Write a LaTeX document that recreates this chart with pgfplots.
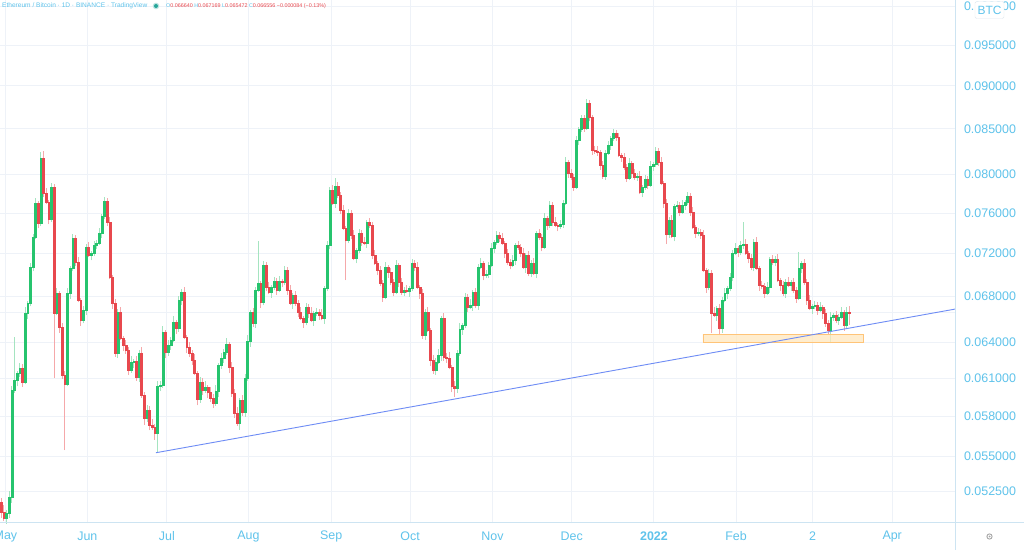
\documentclass[border=0pt]{standalone}
\usepackage{pgfplots}
\usepackage{pgfplotstable}
\pgfplotsset{compat=1.18}
\usepackage{fontspec}
\setmainfont{Liberation Sans}
\definecolor{tvgreen}{RGB}{38,196,110}
\definecolor{tvred}{RGB}{232,72,78}
\definecolor{tvgreenw}{RGB}{165,228,192}
\definecolor{tvredw}{RGB}{245,168,170}
\definecolor{tvlabel}{RGB}{95,195,235}
\definecolor{tvgrid}{RGB}{238,242,248}
\definecolor{tvsep}{RGB}{205,228,242}
\definecolor{tvtrend}{RGB}{110,140,245}
\definecolor{boxfill}{RGB}{255,232,190}
\definecolor{boxdraw}{RGB}{255,196,120}
\definecolor{tvdot}{RGB}{38,166,154}
\tikzset{
 upwick/.style={draw=tvgreenw, line width=0.9bp},
 dnwick/.style={draw=tvredw, line width=0.9bp},
 upbody/.style={fill=tvgreen, draw=tvgreen, line width=0.4bp},
 dnbody/.style={fill=tvred, draw=tvred, line width=0.4bp},
}
\pgfplotstableread{
k o h l c
0 0.05174 0.05204 0.05066 0.05106
1 0.05106 0.05156 0.05045 0.05065
2 0.05065 0.05119 0.05015 0.05099
3 0.05099 0.05249 0.05069 0.05209
4 0.05209 0.06035 0.05169 0.06005
5 0.06005 0.06444 0.05985 0.06086
6 0.06086 0.06163 0.06036 0.06143
7 0.06143 0.06224 0.06113 0.06184
8 0.06184 0.06214 0.06030 0.06070
9 0.06070 0.06703 0.06050 0.06653
10 0.06653 0.06762 0.06603 0.06742
11 0.06742 0.07112 0.06712 0.07072
12 0.07072 0.07390 0.07032 0.07360
13 0.07360 0.07750 0.07340 0.07700
14 0.07700 0.07720 0.07448 0.07498
15 0.07498 0.08241 0.07468 0.08176
16 0.08176 0.08252 0.07764 0.07804
17 0.07804 0.07854 0.07691 0.07711
18 0.07711 0.07731 0.07488 0.07538
19 0.07538 0.07907 0.07508 0.07867
20 0.07867 0.07897 0.06102 0.06653
21 0.06653 0.06882 0.06633 0.06832
22 0.06832 0.06852 0.06480 0.06530
23 0.06530 0.06570 0.06097 0.06127
24 0.06127 0.06157 0.05545 0.06054
25 0.06054 0.06882 0.06034 0.06832
26 0.06832 0.07083 0.06782 0.07063
27 0.07063 0.07391 0.07033 0.07351
28 0.07351 0.07381 0.07079 0.07119
29 0.07119 0.07169 0.06749 0.06769
30 0.06769 0.06789 0.06541 0.06591
31 0.06591 0.06719 0.06561 0.06679
32 0.06679 0.07293 0.06639 0.07263
33 0.07263 0.07313 0.07166 0.07186
34 0.07186 0.07225 0.07136 0.07205
35 0.07205 0.07323 0.07175 0.07283
36 0.07283 0.07332 0.07243 0.07302
37 0.07302 0.07450 0.07282 0.07400
38 0.07400 0.07588 0.07350 0.07568
39 0.07568 0.07761 0.07538 0.07721
40 0.07721 0.07751 0.07468 0.07508
41 0.07508 0.07558 0.06959 0.06979
42 0.06979 0.06999 0.06692 0.06742
43 0.06742 0.06782 0.06278 0.06308
44 0.06308 0.06691 0.06268 0.06661
45 0.06661 0.06711 0.06415 0.06435
46 0.06435 0.06455 0.06326 0.06376
47 0.06376 0.06416 0.06303 0.06333
48 0.06333 0.06363 0.06127 0.06167
49 0.06167 0.06283 0.06147 0.06233
50 0.06233 0.06262 0.06183 0.06242
51 0.06242 0.06282 0.06080 0.06110
52 0.06110 0.06338 0.06070 0.06308
53 0.06308 0.06358 0.05946 0.05966
54 0.05966 0.05986 0.05736 0.05786
55 0.05786 0.05888 0.05756 0.05848
56 0.05848 0.05878 0.05692 0.05732
57 0.05732 0.05782 0.05697 0.05717
58 0.05717 0.05737 0.05622 0.05672
59 0.05672 0.06077 0.05530 0.06037
60 0.06037 0.06075 0.05997 0.06045
61 0.06045 0.06537 0.06025 0.06487
62 0.06487 0.06507 0.06266 0.06316
63 0.06316 0.06416 0.06286 0.06376
64 0.06376 0.06448 0.06336 0.06418
65 0.06418 0.06624 0.06398 0.06574
66 0.06574 0.06594 0.06471 0.06521
67 0.06521 0.06809 0.06491 0.06769
68 0.06769 0.06871 0.06729 0.06841
69 0.06841 0.06891 0.06424 0.06444
70 0.06444 0.06464 0.06308 0.06358
71 0.06358 0.06398 0.06278 0.06308
72 0.06308 0.06338 0.06210 0.06250
73 0.06250 0.06300 0.06123 0.06143
74 0.06143 0.06163 0.05884 0.05934
75 0.05934 0.06110 0.05904 0.06070
76 0.06070 0.06100 0.05965 0.06005
77 0.06005 0.06079 0.05985 0.06029
78 0.06029 0.06049 0.05939 0.05989
79 0.05989 0.06029 0.05912 0.05942
80 0.05942 0.05972 0.05863 0.05903
81 0.05903 0.06047 0.05883 0.05997
82 0.05997 0.06229 0.05947 0.06209
83 0.06209 0.06307 0.06179 0.06267
84 0.06267 0.06346 0.06227 0.06316
85 0.06316 0.06434 0.06296 0.06384
86 0.06384 0.06404 0.06142 0.06192
87 0.06192 0.06232 0.05951 0.05981
88 0.05981 0.06011 0.05785 0.05825
89 0.05825 0.05875 0.05727 0.05747
90 0.05747 0.05946 0.05697 0.05926
91 0.05926 0.05966 0.05802 0.05832
92 0.05832 0.06132 0.05792 0.06102
93 0.06102 0.06460 0.06082 0.06410
94 0.06410 0.06681 0.06360 0.06661
95 0.06661 0.06701 0.06535 0.06565
96 0.06565 0.06889 0.06525 0.06859
97 0.06859 0.07321 0.06839 0.06923
98 0.06923 0.06943 0.06701 0.06751
99 0.06751 0.07131 0.06721 0.07091
100 0.07091 0.07121 0.06847 0.06887
101 0.06887 0.06937 0.06821 0.06841
102 0.06841 0.06907 0.06791 0.06887
103 0.06887 0.06982 0.06857 0.06942
104 0.06942 0.06972 0.06819 0.06859
105 0.06859 0.06992 0.06839 0.06942
106 0.06942 0.06962 0.06883 0.06933
107 0.06933 0.07084 0.06903 0.07044
108 0.07044 0.07074 0.06819 0.06859
109 0.06859 0.06909 0.06722 0.06742
110 0.06742 0.06834 0.06692 0.06814
111 0.06814 0.06854 0.06712 0.06742
112 0.06742 0.06772 0.06621 0.06661
113 0.06661 0.06711 0.06589 0.06609
114 0.06609 0.06629 0.06524 0.06574
115 0.06574 0.06746 0.06544 0.06706
116 0.06706 0.06736 0.06613 0.06653
117 0.06653 0.06703 0.06571 0.06591
118 0.06591 0.06673 0.06541 0.06653
119 0.06653 0.06701 0.06623 0.06661
120 0.06661 0.06691 0.06595 0.06635
121 0.06635 0.06685 0.06589 0.06609
122 0.06609 0.06897 0.06559 0.06877
123 0.06877 0.07323 0.06847 0.07283
124 0.07283 0.07865 0.07243 0.07835
125 0.07835 0.07885 0.07680 0.07700
126 0.07700 0.07961 0.07650 0.07877
127 0.07877 0.07917 0.07753 0.07783
128 0.07783 0.07813 0.07589 0.07629
129 0.07629 0.07679 0.07429 0.07449
130 0.07449 0.07469 0.06951 0.07331
131 0.07331 0.07639 0.07301 0.07599
132 0.07599 0.07629 0.07340 0.07380
133 0.07380 0.07430 0.07137 0.07157
134 0.07157 0.07254 0.07107 0.07234
135 0.07234 0.07440 0.07204 0.07400
136 0.07400 0.07430 0.07272 0.07312
137 0.07312 0.07362 0.07282 0.07302
138 0.07302 0.07528 0.07252 0.07508
139 0.07508 0.07548 0.07448 0.07478
140 0.07478 0.07508 0.07146 0.07186
141 0.07186 0.07236 0.07090 0.07110
142 0.07110 0.07130 0.06994 0.07044
143 0.07044 0.07084 0.06893 0.06923
144 0.06923 0.06953 0.06756 0.06796
145 0.06796 0.07122 0.06776 0.07072
146 0.07072 0.07092 0.06975 0.07025
147 0.07025 0.07065 0.06903 0.06933
148 0.06933 0.06963 0.06801 0.06841
149 0.06841 0.07141 0.06821 0.07091
150 0.07091 0.07111 0.06883 0.06933
151 0.06933 0.06973 0.06811 0.06841
152 0.06841 0.06889 0.06801 0.06859
153 0.06859 0.06909 0.06830 0.06850
154 0.06850 0.06897 0.06800 0.06877
155 0.06877 0.07150 0.06847 0.07110
156 0.07110 0.07140 0.07032 0.07072
157 0.07072 0.07122 0.06867 0.06887
158 0.06887 0.06907 0.06782 0.06832
159 0.06832 0.06872 0.06431 0.06461
160 0.06461 0.06691 0.06421 0.06661
161 0.06661 0.06711 0.06484 0.06504
162 0.06504 0.06524 0.06200 0.06250
163 0.06250 0.06290 0.06137 0.06167
164 0.06167 0.06263 0.06127 0.06233
165 0.06233 0.06342 0.06213 0.06292
166 0.06292 0.06629 0.06242 0.06609
167 0.06609 0.06649 0.06245 0.06275
168 0.06275 0.06305 0.06227 0.06267
169 0.06267 0.06317 0.06172 0.06192
170 0.06192 0.06212 0.05987 0.06037
171 0.06037 0.06077 0.05950 0.06021
172 0.06021 0.06338 0.05981 0.06308
173 0.06308 0.06563 0.06288 0.06513
174 0.06513 0.06568 0.06463 0.06548
175 0.06548 0.06836 0.06518 0.06796
176 0.06796 0.06826 0.06666 0.06706
177 0.06706 0.06774 0.06686 0.06724
178 0.06724 0.06861 0.06674 0.06841
179 0.06841 0.06881 0.06694 0.06724
180 0.06724 0.07102 0.06684 0.07072
181 0.07072 0.07160 0.07052 0.07110
182 0.07110 0.07130 0.06948 0.06998
183 0.06998 0.07047 0.06968 0.07007
184 0.07007 0.07121 0.06967 0.07091
185 0.07091 0.07303 0.07071 0.07253
186 0.07253 0.07332 0.07203 0.07312
187 0.07312 0.07420 0.07282 0.07380
188 0.07380 0.07410 0.07311 0.07351
189 0.07351 0.07401 0.07282 0.07302
190 0.07302 0.07322 0.07155 0.07205
191 0.07205 0.07245 0.07089 0.07119
192 0.07119 0.07149 0.07051 0.07091
193 0.07091 0.07188 0.07071 0.07138
194 0.07138 0.07303 0.07088 0.07283
195 0.07283 0.07323 0.07233 0.07263
196 0.07263 0.07293 0.07165 0.07205
197 0.07205 0.07255 0.07052 0.07072
198 0.07072 0.07206 0.07022 0.07186
199 0.07186 0.07226 0.06986 0.07016
200 0.07016 0.07140 0.06976 0.07110
201 0.07110 0.07160 0.06996 0.07016
202 0.07016 0.07420 0.06966 0.07400
203 0.07400 0.07440 0.07330 0.07360
204 0.07360 0.07390 0.07223 0.07263
205 0.07263 0.07598 0.07243 0.07548
206 0.07548 0.07568 0.07428 0.07478
207 0.07478 0.07720 0.07448 0.07680
208 0.07680 0.07710 0.07468 0.07508
209 0.07508 0.07558 0.07458 0.07478
210 0.07478 0.07498 0.07418 0.07468
211 0.07468 0.07528 0.07438 0.07488
212 0.07488 0.07730 0.07448 0.07700
213 0.07700 0.08182 0.07680 0.08132
214 0.08132 0.08152 0.07964 0.08014
215 0.08014 0.08054 0.07942 0.07972
216 0.07972 0.08002 0.07827 0.07867
217 0.07867 0.08423 0.07847 0.08373
218 0.08373 0.08517 0.08323 0.08497
219 0.08497 0.08662 0.08467 0.08622
220 0.08622 0.08652 0.08468 0.08508
221 0.08508 0.08846 0.08488 0.08796
222 0.08796 0.08831 0.08584 0.08634
223 0.08634 0.08654 0.08213 0.08263
224 0.08263 0.08303 0.08222 0.08252
225 0.08252 0.08302 0.08201 0.08241
226 0.08241 0.08261 0.08050 0.08100
227 0.08100 0.08140 0.07952 0.07982
228 0.07982 0.08260 0.07942 0.08230
229 0.08230 0.08368 0.08210 0.08318
230 0.08318 0.08416 0.08268 0.08396
231 0.08396 0.08492 0.08366 0.08452
232 0.08452 0.08482 0.08367 0.08407
233 0.08407 0.08457 0.08188 0.08208
234 0.08208 0.08228 0.08137 0.08187
235 0.08187 0.08227 0.08048 0.08078
236 0.08078 0.08108 0.07921 0.07961
237 0.07961 0.08172 0.07941 0.08122
238 0.08122 0.08142 0.07964 0.08014
239 0.08014 0.08054 0.07942 0.07972
240 0.07972 0.08012 0.07932 0.07982
241 0.07982 0.08032 0.07794 0.07814
242 0.07814 0.07887 0.07764 0.07867
243 0.07867 0.07990 0.07837 0.07950
244 0.07950 0.07980 0.07848 0.07888
245 0.07888 0.08139 0.07868 0.08089
246 0.08089 0.08131 0.08039 0.08111
247 0.08111 0.08292 0.08081 0.08252
248 0.08252 0.08282 0.08092 0.08132
249 0.08132 0.08182 0.07889 0.07909
250 0.07909 0.07929 0.07650 0.07700
251 0.07700 0.07740 0.07292 0.07390
252 0.07390 0.07558 0.07350 0.07528
253 0.07528 0.07578 0.07350 0.07370
254 0.07370 0.07690 0.07320 0.07670
255 0.07670 0.07720 0.07640 0.07680
256 0.07680 0.07710 0.07569 0.07609
257 0.07609 0.07730 0.07589 0.07680
258 0.07680 0.07731 0.07630 0.07711
259 0.07711 0.07813 0.07681 0.07773
260 0.07773 0.07803 0.07569 0.07609
261 0.07609 0.07659 0.07439 0.07459
262 0.07459 0.07479 0.07350 0.07400
263 0.07400 0.07449 0.07370 0.07409
264 0.07409 0.07439 0.07340 0.07380
265 0.07380 0.07430 0.07024 0.07044
266 0.07044 0.07064 0.06837 0.06887
267 0.06887 0.07056 0.06857 0.07016
268 0.07016 0.07046 0.06478 0.06653
269 0.06653 0.06703 0.06615 0.06635
270 0.06635 0.06717 0.06585 0.06697
271 0.06697 0.06737 0.06461 0.06521
272 0.06521 0.06799 0.06481 0.06769
273 0.06769 0.06882 0.06749 0.06832
274 0.06832 0.06897 0.06782 0.06877
275 0.06877 0.07019 0.06847 0.06979
276 0.06979 0.07235 0.06939 0.07205
277 0.07205 0.07303 0.07185 0.07253
278 0.07253 0.07273 0.07165 0.07215
279 0.07215 0.07323 0.07185 0.07283
280 0.07283 0.07508 0.07243 0.07292
281 0.07292 0.07342 0.07185 0.07205
282 0.07205 0.07225 0.07107 0.07157
283 0.07157 0.07197 0.07042 0.07072
284 0.07072 0.07342 0.07032 0.07312
285 0.07312 0.07362 0.07043 0.07063
286 0.07063 0.07083 0.06855 0.06905
287 0.06905 0.06945 0.06866 0.06896
288 0.06896 0.06926 0.06792 0.06832
289 0.06832 0.06937 0.06812 0.06887
290 0.06887 0.07168 0.06837 0.07148
291 0.07148 0.07188 0.07089 0.07119
292 0.07119 0.07178 0.07079 0.07148
293 0.07148 0.07198 0.06931 0.06951
294 0.06951 0.06971 0.06855 0.06905
295 0.06905 0.06945 0.06802 0.06832
296 0.06832 0.06963 0.06792 0.06933
297 0.06933 0.06983 0.06885 0.06905
298 0.06905 0.06953 0.06855 0.06933
299 0.06933 0.06973 0.06829 0.06859
300 0.06859 0.06889 0.06747 0.06787
301 0.06787 0.07215 0.06767 0.07063
302 0.07063 0.07130 0.07013 0.07110
303 0.07110 0.07150 0.06903 0.06933
304 0.06933 0.06963 0.06729 0.06769
305 0.06769 0.06819 0.06677 0.06697
306 0.06697 0.06735 0.06647 0.06715
307 0.06715 0.06764 0.06685 0.06724
308 0.06724 0.06754 0.06639 0.06679
309 0.06679 0.06756 0.06659 0.06706
310 0.06706 0.06726 0.06603 0.06653
311 0.06653 0.06693 0.06535 0.06565
312 0.06565 0.06595 0.06464 0.06504
313 0.06504 0.06667 0.06393 0.06617
314 0.06617 0.06655 0.06585 0.06635
315 0.06635 0.06675 0.06561 0.06591
316 0.06591 0.06647 0.06551 0.06617
317 0.06617 0.06711 0.06597 0.06661
318 0.06661 0.06681 0.06498 0.06548
319 0.06548 0.06704 0.06518 0.06664
320 0.066640 0.067169 0.065472 0.066556
}\candles
\begin{document}
\begin{tikzpicture}
\path[use as bounding box] (0bp,0bp) rectangle (1024bp,550bp);
\fill[white] (0bp,0bp) rectangle (1024bp,550bp);
\begin{axis}[
  at={(0bp,27bp)}, anchor=south west,
  scale only axis, width=955bp, height=523bp,
  ymode=log,
  xmin=-0.45, xmax=359.9, ymin=0.05032, ymax=0.10087,
  axis line style={draw=none},
  major tick length=0pt,
  ytick={0.0525,0.055,0.058,0.061,0.064,0.068,0.072,0.076,0.08,0.085,0.09,0.095,0.1},
  yticklabels={0.052500,0.055000,0.058000,0.061000,0.064000,0.068000,0.072000,0.076000,0.080000,0.085000,0.090000,0.095000,0.100000},
  yticklabel pos=right,
  yticklabel style={anchor=center, xshift=35bp, font=\fontsize{12.5}{14}\selectfont, text=tvlabel},
  xtick={1.6,32.5,62.5,93.3,124.5,154.3,185.4,215.3,246.3,277.3,306.2,336.2},
  xticklabels={May,Jun,Jul,Aug,Sep,Oct,Nov,Dec,\textbf{2022},Feb,2,Apr},
  xticklabel style={anchor=center, yshift=-13bp, font=\fontsize{12.5}{14}\selectfont, text=tvlabel},
  grid=major,
  major grid style={draw=tvgrid, line width=0.9bp},
  clip=true,
]
\addplot[draw=tvgrid, line width=0.9bp] coordinates {(-0.45,0.066556) (359.9,0.066556)};
\pgfplotstablegetrowsof{\candles}
\pgfmathtruncatemacro{\lastrow}{\pgfplotsretval-1}
\pgfplotsforeachungrouped \i in {0,...,\lastrow}{%
  \pgfplotstablegetelem{\i}{k}\of\candles \let\cK\pgfplotsretval
  \pgfplotstablegetelem{\i}{o}\of\candles \let\cO\pgfplotsretval
  \pgfplotstablegetelem{\i}{h}\of\candles \let\cH\pgfplotsretval
  \pgfplotstablegetelem{\i}{l}\of\candles \let\cL\pgfplotsretval
  \pgfplotstablegetelem{\i}{c}\of\candles \let\cC\pgfplotsretval
  \pgfmathsetmacro{\xa}{\cK-0.37}%
  \pgfmathsetmacro{\xb}{\cK+0.37}%
  \ifdim\cC pt<\cO pt \def\cdir{dn}\else\def\cdir{up}\fi
  \edef\doit{\noexpand\draw[\cdir wick] (axis cs:\cK,\cL) -- (axis cs:\cK,\cH);%
    \noexpand\filldraw[\cdir body] (axis cs:\xa,\cO) rectangle (axis cs:\xb,\cC);}%
  \doit
}
\addplot[fill=boxfill, fill opacity=0.75, draw=boxdraw, line width=0.9bp] coordinates {(264.8,0.06400) (325.2,0.06400) (325.2,0.06470) (264.8,0.06470) (264.8,0.06400)};
\addplot[draw=tvtrend, line width=0.9bp] coordinates {(58.4,0.05525) (359.9,0.06688)};
\end{axis}
\draw[tvsep, line width=1bp] (955.5bp,0bp) -- (955.5bp,550bp);
\draw[tvsep, line width=1bp] (0bp,27bp) -- (1024bp,27bp);
\node[draw={rgb,255:red,225;green,232;blue,238}, fill=white, rounded corners=1.5bp, inner sep=0pt, minimum width=29bp, minimum height=17bp, text=tvlabel, font=\fontsize{12}{14}\selectfont] at (989.5bp,540bp) {BTC};
\draw[gray!70, line width=0.9bp] (989.5bp,13.5bp) circle (2.6bp);
\fill[gray!70] (989.5bp,13.5bp) circle (1.0bp);
\node[anchor=west, inner sep=0pt, font=\fontsize{6.6}{8}\selectfont, text=tvlabel] at (2bp,544bp) {Ethereum / Bitcoin · 1D · BINANCE · TradingView};
\fill[tvdot!30] (156bp,544bp) circle (3.3bp);
\fill[tvdot] (156bp,544bp) circle (2.0bp);
\node[anchor=west, inner sep=0pt, font=\fontsize{5.4}{7}\selectfont] at (166bp,544bp) {\textcolor{tvlabel}{O}\textcolor{tvred}{0.066640} \textcolor{tvlabel}{H}\textcolor{tvred}{0.067169} \textcolor{tvlabel}{L}\textcolor{tvred}{0.065472} \textcolor{tvlabel}{C}\textcolor{tvred}{0.066556} \textcolor{tvred}{−0.000084 (−0.13\%)}};
\end{tikzpicture}
\end{document}
